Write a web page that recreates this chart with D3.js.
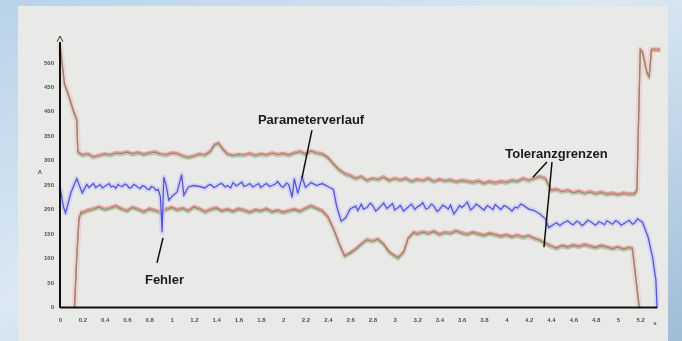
<!DOCTYPE html>
<html>
<head>
<meta charset="utf-8">
<script src="https://cdn.jsdelivr.net/npm/d3@7"></script>
<style>
  html, body { margin: 0; padding: 0; background: #dce8f3; }
  svg { display: block; }
</style>
</head>
<body>
<div id="chart"></div>
<script>
// tick labels
const xTicks = [0, 0.2, 0.4, 0.6, 0.8, 1, 1.2, 1.4, 1.6, 1.8, 2, 2.2, 2.4, 2.6, 2.8, 3, 3.2, 3.4, 3.6, 3.8, 4, 4.2, 4.4, 4.6, 4.8, 5, 5.2];
const yTicks = [0, 50, 100, 150, 200, 250, 300, 350, 400, 450, 500];

// upper tolerance limit [time s, current A]
const upperLimit = [
  [0, 536], [0.04, 455], [0.08, 430], [0.12, 400], [0.15, 382], [0.16, 316],
  [0.2, 310], [0.25, 312], [0.3, 306], [0.35, 309], [0.4, 312], [0.45, 310],
  [0.5, 314], [0.55, 313], [0.6, 316], [0.65, 312], [0.7, 315], [0.75, 311],
  [0.8, 314], [0.85, 316], [0.9, 312], [0.95, 310], [1.0, 314], [1.05, 313],
  [1.1, 308], [1.15, 305], [1.2, 308], [1.25, 312], [1.3, 310], [1.35, 318],
  [1.38, 330], [1.42, 334], [1.46, 322], [1.5, 312], [1.55, 309], [1.6, 311],
  [1.65, 310], [1.7, 313], [1.75, 309], [1.8, 312], [1.85, 310], [1.9, 314],
  [1.95, 311], [2.0, 313], [2.05, 310], [2.1, 314], [2.15, 317], [2.2, 312],
  [2.25, 318], [2.3, 314], [2.35, 312], [2.4, 305], [2.45, 292], [2.5, 280],
  [2.55, 272], [2.6, 268], [2.65, 262], [2.7, 266], [2.75, 258], [2.8, 262],
  [2.85, 260], [2.9, 265], [2.95, 258], [3.0, 262], [3.05, 259], [3.1, 262],
  [3.15, 256], [3.2, 260], [3.25, 258], [3.3, 262], [3.35, 256], [3.4, 260],
  [3.45, 257], [3.5, 259], [3.55, 255], [3.6, 258], [3.65, 256], [3.7, 254],
  [3.75, 257], [3.8, 252], [3.85, 256], [3.9, 253], [3.95, 256], [4.0, 254],
  [4.05, 258], [4.1, 256], [4.15, 262], [4.2, 258], [4.25, 262], [4.3, 266],
  [4.35, 262], [4.38, 248], [4.4, 238], [4.45, 240], [4.5, 235], [4.55, 238],
  [4.6, 233], [4.65, 236], [4.7, 232], [4.75, 235], [4.8, 231], [4.85, 234],
  [4.9, 230], [4.95, 232], [5.0, 229], [5.05, 232], [5.1, 230], [5.15, 231],
  [5.17, 238], [5.2, 525], [5.22, 520], [5.26, 478], [5.28, 470], [5.3, 525],
  [5.38, 525]
];

// lower tolerance limit [time s, current A]
const lowerLimit = [
  [0.13, 0], [0.15, 100], [0.17, 180], [0.19, 193], [0.2, 192], [0.25, 197],
  [0.3, 200], [0.35, 204], [0.4, 199], [0.45, 202], [0.5, 206], [0.55, 200],
  [0.6, 196], [0.65, 203], [0.7, 199], [0.75, 194], [0.8, 200], [0.85, 197],
  [0.9, 193], [0.95, 199], [1.0, 203], [1.05, 198], [1.1, 201], [1.15, 196],
  [1.2, 204], [1.25, 200], [1.3, 194], [1.35, 199], [1.4, 202], [1.45, 196],
  [1.5, 199], [1.55, 195], [1.6, 200], [1.65, 197], [1.7, 193], [1.75, 198],
  [1.8, 196], [1.85, 200], [1.9, 194], [1.95, 197], [2.0, 193], [2.05, 196],
  [2.1, 199], [2.15, 195], [2.2, 201], [2.25, 206], [2.3, 201], [2.35, 196],
  [2.4, 184], [2.45, 160], [2.5, 130], [2.55, 104], [2.6, 110], [2.65, 118],
  [2.7, 128], [2.75, 137], [2.8, 134], [2.85, 138], [2.9, 128], [2.95, 112],
  [3.0, 104], [3.03, 100], [3.08, 112], [3.12, 140], [3.17, 152], [3.2, 149],
  [3.25, 153], [3.3, 150], [3.35, 154], [3.4, 148], [3.45, 152], [3.5, 150],
  [3.55, 155], [3.6, 151], [3.65, 148], [3.7, 152], [3.75, 149], [3.8, 146],
  [3.85, 150], [3.9, 147], [3.95, 144], [4.0, 147], [4.05, 143], [4.1, 146],
  [4.15, 142], [4.2, 145], [4.25, 140], [4.3, 136], [4.35, 130], [4.4, 124],
  [4.45, 120], [4.5, 125], [4.55, 122], [4.6, 126], [4.65, 123], [4.7, 127],
  [4.75, 124], [4.8, 121], [4.85, 125], [4.9, 122], [4.95, 119], [5.0, 122],
  [5.05, 118], [5.1, 121], [5.13, 119], [5.19, 0]
];

// measured parameter curve [time s, current A]
const parameter = [
  [0, 245], [0.03, 205], [0.05, 192], [0.1, 235], [0.15, 262], [0.2, 233],
  [0.24, 250], [0.26, 244], [0.28, 248], [0.3, 252], [0.32, 244], [0.34, 247],
  [0.36, 250], [0.38, 243], [0.4, 246], [0.42, 249], [0.44, 252], [0.46, 245],
  [0.48, 247], [0.5, 242], [0.52, 250], [0.54, 247], [0.56, 246], [0.58, 251],
  [0.6, 249], [0.62, 243], [0.64, 244], [0.66, 250], [0.68, 248], [0.7, 244],
  [0.72, 242], [0.74, 248], [0.76, 246], [0.78, 241], [0.8, 240], [0.82, 246],
  [0.84, 244], [0.86, 238], [0.88, 240], [0.9, 225],
  [0.915, 153], [0.93, 265], [0.95, 250], [0.975, 218], [1.0, 225], [1.05, 235],
  [1.09, 270], [1.11, 228], [1.15, 245], [1.2, 248], [1.25, 246], [1.3, 243],
  [1.33, 249], [1.35, 250], [1.38, 244], [1.4, 246], [1.43, 251], [1.45, 252],
  [1.48, 245], [1.5, 248], [1.53, 243], [1.55, 254], [1.58, 247], [1.6, 250],
  [1.63, 255], [1.65, 246], [1.68, 249], [1.7, 252], [1.73, 245], [1.75, 248],
  [1.78, 252], [1.8, 244], [1.83, 249], [1.85, 252], [1.88, 246], [1.9, 248],
  [1.93, 251], [1.95, 256], [1.98, 247], [2.0, 244], [2.03, 253], [2.05, 250],
  [2.08, 224], [2.1, 262], [2.13, 232],
  [2.17, 265], [2.2, 244], [2.25, 254], [2.3, 248], [2.35, 252], [2.4, 246],
  [2.45, 240], [2.48, 205], [2.52, 175], [2.56, 182], [2.6, 200], [2.65, 206],
  [2.67, 197], [2.7, 210], [2.72, 200], [2.75, 203], [2.78, 212], [2.8, 208],
  [2.83, 196], [2.85, 200], [2.88, 207], [2.9, 212], [2.93, 201], [2.95, 205],
  [2.98, 211], [3.0, 198], [3.03, 203], [3.05, 207], [3.08, 196], [3.1, 200],
  [3.13, 206], [3.15, 210], [3.18, 199], [3.2, 204], [3.23, 208], [3.25, 213],
  [3.28, 200], [3.3, 202], [3.33, 210], [3.35, 206], [3.38, 195], [3.4, 199],
  [3.43, 208], [3.45, 205], [3.48, 200], [3.5, 208], [3.53, 190], [3.55, 196],
  [3.58, 207], [3.6, 203], [3.63, 209], [3.65, 214], [3.68, 198], [3.7, 202],
  [3.73, 210], [3.75, 207], [3.78, 201], [3.8, 198], [3.83, 207], [3.85, 204],
  [3.88, 199], [3.9, 209], [3.93, 203], [3.95, 199], [3.98, 207], [4.0, 205],
  [4.03, 200], [4.05, 196], [4.08, 204], [4.1, 202], [4.13, 210], [4.15, 208],
  [4.2, 200], [4.25, 197], [4.3, 190], [4.35, 180], [4.38, 162], [4.42, 168],
  [4.45, 172], [4.48, 166], [4.5, 170], [4.53, 174], [4.55, 176], [4.58, 170],
  [4.6, 168], [4.63, 175], [4.65, 173], [4.68, 166], [4.7, 170], [4.73, 177],
  [4.75, 175], [4.78, 170], [4.8, 167], [4.83, 174], [4.85, 172], [4.88, 168],
  [4.9, 176], [4.93, 172], [4.95, 169], [4.98, 176], [5.0, 174], [5.03, 167],
  [5.05, 170], [5.08, 174], [5.1, 177], [5.13, 169], [5.15, 172], [5.175, 180], [5.22, 173], [5.27, 143],
  [5.31, 102], [5.34, 55], [5.35, 0]
];

// annotations: label, text anchor [t, A], leader lines [[t, A], [t, A]]
const notes = [
  {label: "Parameterverlauf", at: [2.25, 374], lines: [[[2.258, 361], [2.168, 263]]]},
  {label: "Fehler", at: [0.936, 47], lines: [[[0.923, 141], [0.869, 90]]]},
  {label: "Toleranzgrenzen", at: [4.449, 304], lines: [[[4.364, 296], [4.238, 265]], [[4.409, 296], [4.337, 122]]]}
];

const width = 682, height = 341;

const svg = d3.select("#chart")
  .append("svg")
  .attr("width", width)
  .attr("height", height);

const defs = svg.append("defs");

const bg = defs.append("linearGradient")
  .attr("id", "bgGradient")
  .attr("x1", "0%").attr("y1", "0%")
  .attr("x2", "100%").attr("y2", "100%");
bg.append("stop").attr("offset", "0%").attr("stop-color", "#b9d2e8");
bg.append("stop").attr("offset", "45%").attr("stop-color", "#dbe8f3");
bg.append("stop").attr("offset", "100%").attr("stop-color", "#9fbdd8");

defs.append("filter")
  .attr("id", "soft")
  .append("feGaussianBlur")
  .attr("stdDeviation", 0.45);

defs.append("marker")
  .attr("id", "arrow")
  .attr("viewBox", "0 0 10 10")
  .attr("refX", 5).attr("refY", 10)
  .attr("markerWidth", 3).attr("markerHeight", 5)
  .attr("orient", "0")
  .append("path")
  .attr("d", "M0,10 L5,0 L10,10")
  .attr("fill", "none")
  .attr("stroke", "#111")
  .attr("stroke-width", 1.4);

svg.append("rect")
  .attr("width", width).attr("height", height)
  .attr("fill", "url(#bgGradient)");

svg.append("rect")
  .attr("x", 18).attr("y", 6)
  .attr("width", 650).attr("height", 340)
  .attr("fill", "#e9e9e8");

const x = d3.scaleLinear().domain([0, 5.35]).range([60, 657]);
const y = d3.scaleLinear().domain([0, 541]).range([307, 42]);

const g = svg.append("g").style("filter", "url(#soft)");

const line = d3.line()
  .x(d => x(d[0]))
  .y(d => y(d[1]));

function toleranceLine(data) {
  g.append("path").datum(data).attr("d", line)
    .attr("fill", "none").attr("stroke", "#f3c2bf")
    .attr("stroke-width", 6).attr("stroke-opacity", 0.55)
    .attr("stroke-linejoin", "round");
  g.append("path").datum(data).attr("d", line)
    .attr("transform", "translate(0,1.6)")
    .attr("fill", "none").attr("stroke", "#8cc48a")
    .attr("stroke-width", 1.2).attr("stroke-opacity", 0.8);
  g.append("path").datum(data).attr("d", line)
    .attr("transform", "translate(0,-1.4)")
    .attr("fill", "none").attr("stroke", "#e5867e")
    .attr("stroke-width", 1.2).attr("stroke-opacity", 0.85);
  g.append("path").datum(data).attr("d", line)
    .attr("fill", "none").attr("stroke", "#978676")
    .attr("stroke-width", 1.3);
}

toleranceLine(upperLimit);
toleranceLine(lowerLimit);

g.append("path").datum(parameter).attr("d", line)
  .attr("fill", "none").attr("stroke", "#c4c4f2")
  .attr("stroke-width", 5).attr("stroke-opacity", 0.6)
  .attr("stroke-linejoin", "round");
g.append("path").datum(parameter).attr("d", line)
  .attr("fill", "none").attr("stroke", "#5656dc")
  .attr("stroke-width", 1.3);

// axes
const tickFont = "bold 6px 'Liberation Sans', Arial, sans-serif";

const xAxis = g.append("g")
  .attr("transform", `translate(0,${y(0)})`)
  .call(d3.axisBottom(x)
    .tickValues(xTicks)
    .tickSize(0)
    .tickPadding(11)
    .tickFormat(d => String(d)));
xAxis.select(".domain").attr("stroke", "#111").attr("stroke-width", 2);
xAxis.selectAll("text").attr("fill", "#505050").style("font", tickFont);

const yAxis = g.append("g")
  .attr("transform", `translate(${x(0)},0)`)
  .call(d3.axisLeft(y)
    .tickValues(yTicks)
    .tickSize(0)
    .tickPadding(6));
yAxis.select(".domain").remove();
yAxis.selectAll("text").attr("fill", "#505050").style("font", tickFont);

g.append("line")
  .attr("x1", x(0)).attr("x2", x(0))
  .attr("y1", y(0) + 1).attr("y2", y(541))
  .attr("stroke", "#111").attr("stroke-width", 2)
  .attr("marker-end", "url(#arrow)");

g.append("text")
  .attr("x", 40).attr("y", y(272))
  .attr("text-anchor", "middle")
  .attr("fill", "#505050")
  .style("font", tickFont)
  .text("A");

g.append("text")
  .attr("x", 655).attr("y", 325)
  .attr("text-anchor", "middle")
  .attr("fill", "#505050")
  .style("font", tickFont)
  .text("s");

// annotations
notes.forEach(n => {
  n.lines.forEach(l => {
    g.append("line")
      .attr("x1", x(l[0][0])).attr("y1", y(l[0][1]))
      .attr("x2", x(l[1][0])).attr("y2", y(l[1][1]))
      .attr("stroke", "#111").attr("stroke-width", 1.5);
  });
  g.append("text")
    .attr("x", x(n.at[0])).attr("y", y(n.at[1]))
    .attr("text-anchor", "middle")
    .attr("fill", "#1a1a1a")
    .style("font", "bold 13px 'Liberation Sans', Arial, sans-serif")
    .text(n.label);
});
</script>
</body>
</html>
